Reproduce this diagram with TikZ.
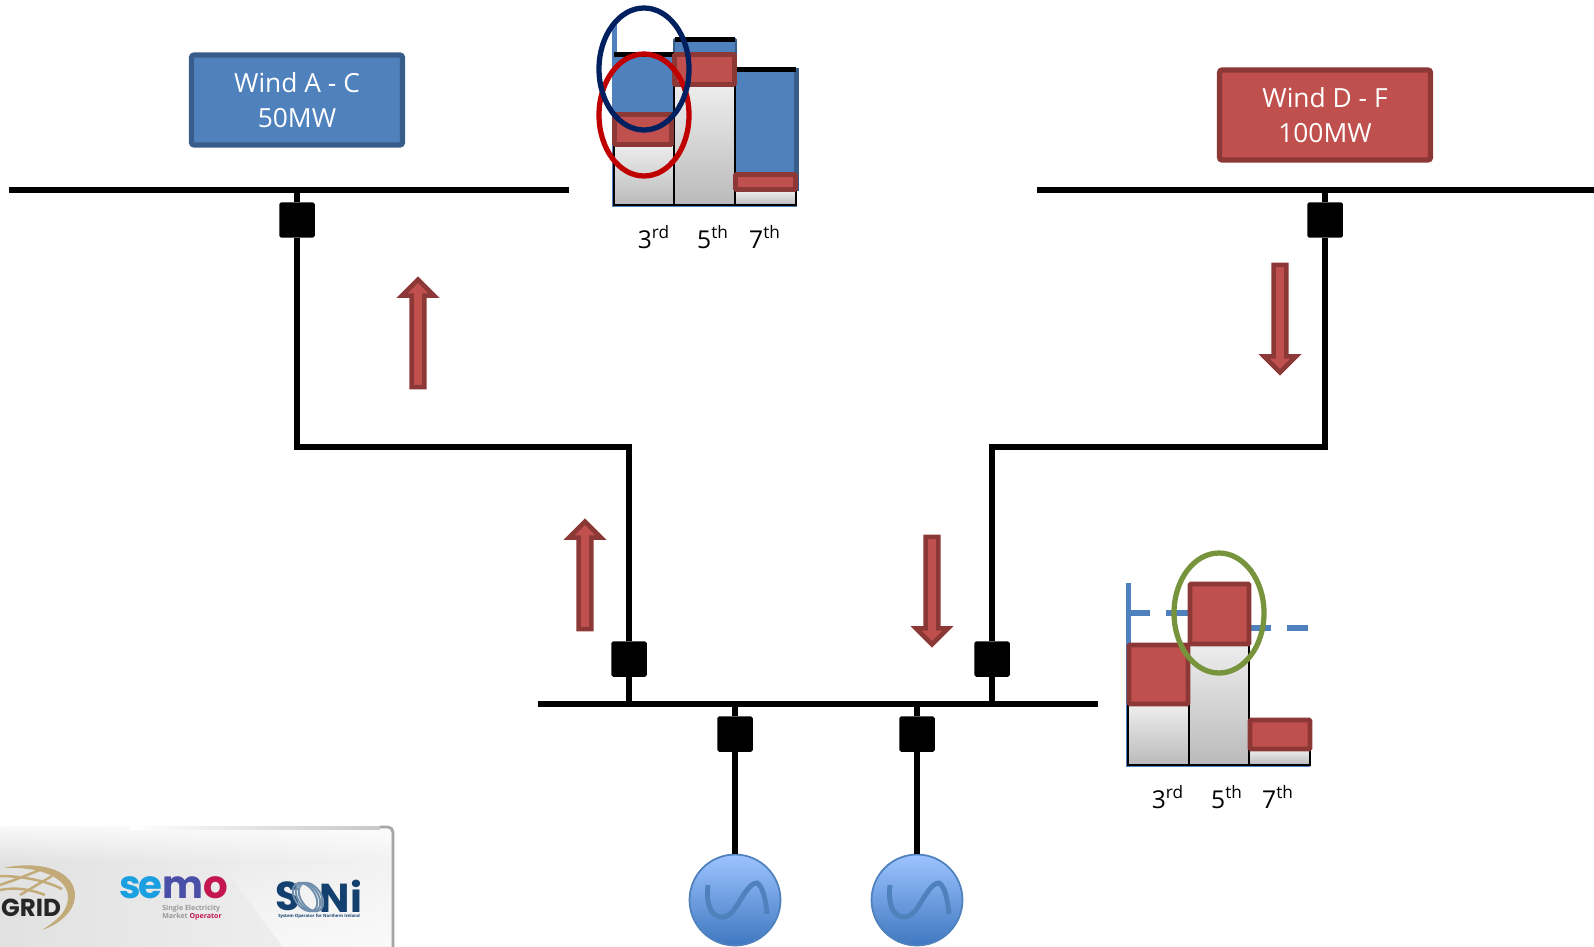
\documentclass[tikz,border=0pt]{standalone}
\usepackage{fontspec}
\setmainfont[Numbers=Lining]{Open Sans}
\newfontfamily\semofont[LetterSpace=-6]{Poppins}
\newfontfamily\logofont{Poppins}
\usetikzlibrary{shapes.arrows, fadings}
\definecolor{chartblue}{HTML}{4F81BD}
\definecolor{chartblueedge}{HTML}{385D8A}
\definecolor{chartred}{HTML}{C0504D}
\definecolor{chartrededge}{HTML}{8C3836}
\definecolor{ringnavy}{HTML}{002060}
\definecolor{ringred}{HTML}{C00000}
\definecolor{ringgreen}{HTML}{77933C}
\definecolor{genlight}{HTML}{9DC3FF}
\definecolor{gendark}{HTML}{3F78C0}
\definecolor{semoblue}{HTML}{1A9FE0}
\definecolor{semopurple}{HTML}{4A4FA8}
\definecolor{semored}{HTML}{C4164F}
\definecolor{soninavy}{HTML}{14406F}
\definecolor{sonisteel}{HTML}{6F8FAD}
\definecolor{gridgold}{HTML}{C2AB78}
\begin{document}
\begin{tikzpicture}[x=0.02cm, y=-0.02cm]
    % Define styles
    \tikzset{
        busbar/.style={
            fill=black,
            inner sep=0pt,
            minimum height=0.11cm
        },
        wire/.style={
            line width=3pt
        },
        breaker/.style={
            fill=black,
            rounded corners=1pt,
            inner sep=0pt,
            minimum size=0.71cm
        },
        windbox/.style={
            draw,
            line width=3pt,
            rounded corners=1.5pt,
            text=white,
            align=center,
            font=\fontsize{15}{20}\selectfont,
            minimum width=4.22cm,
            minimum height=1.8cm
        },
        windblue/.style={
            windbox,
            fill=chartblue,
            draw=chartblueedge
        },
        windred/.style={
            windbox,
            fill=chartred,
            draw=chartrededge
        },
        flow/.style={
            single arrow,
            draw=chartrededge,
            fill=chartred,
            line width=2.6pt,
            inner sep=0pt,
            outer sep=0pt,
            minimum width=0.64cm,
            minimum height=2.15cm,
            single arrow head extend=0.07cm,
            single arrow tip angle=90
        },
        generator/.style={
            circle,
            draw=chartblue,
            line width=1pt,
            top color=genlight,
            bottom color=gendark,
            minimum size=1.82cm,
            inner sep=0pt
        },
        sinewave/.style={
            line width=2.8pt,
            color=chartblue
        },
        redbar/.style={
            fill=chartred,
            draw=chartrededge,
            line width=2.6pt,
            rounded corners=0.5pt
        },
        greybar/.style={
            draw=black,
            line width=1.2pt,
            top color=black!7,
            bottom color=black!27
        },
        ring/.style={
            line width=3pt
        },
        order/.style={
            font=\fontsize{14}{16}\selectfont,
            inner sep=0pt,
            anchor=base
        }
    }

    \useasboundingbox (0,0) rectangle (1594,946);
    \clip (0,0) rectangle (1594,946);

    % Logo panel
    \shade[left color=black!12, right color=black!5, rounded corners=3pt]
        (-20,826) rectangle (393,980);
    \fill[white, opacity=0.8, path fading=south] (-20,826) rectangle (391,862);
    \fill[white, opacity=0.6, path fading=north] (215,855) -- (282,946) -- (391,946) -- (391,855) -- cycle;
    \shade[left color=white, middle color=black!35, right color=black!22] (130,826) rectangle (380,829);
    \draw[black!35, line width=1.6pt, rounded corners=3pt] (380,827) -- (393,827) -- (393,960);
    \fill[gridgold] (3,868) .. controls (40,860) and (76,870) .. (75,897)
        .. controls (74,912) and (58,925) .. (42,930)
        .. controls (56,921) and (68,912) .. (68,897)
        .. controls (68,878) and (40,866) .. cycle;
    \draw[gridgold, line width=1.4pt] (0,885) .. controls (15,880) and (30,874) .. (42,869);
    \draw[gridgold, line width=1.4pt] (20,895) .. controls (30,889) and (42,882) .. (52,876);
    \draw[gridgold, line width=1.4pt] (0,876) .. controls (20,876) and (45,880) .. (62,889);
    \draw[gridgold, line width=1.4pt] (0,890) .. controls (15,887) and (30,889) .. (45,895);
    \node[inner sep=0pt, font=\logofont\bfseries\fontsize{14}{14}\selectfont, text=black!85] (gridlabel) at (31,908) {GRID};
    \node[inner sep=0pt, font=\semofont\bfseries\fontsize{22}{22}\selectfont] (semologo) at (174,888)
        {\textcolor{semoblue}{se}\textcolor{semopurple}{m}\textcolor{semored}{o}};
    \node[inner sep=0pt, align=left, font=\bfseries\fontsize{4}{4.5}\selectfont, text=black!40] (semotext) at (192,913)
        {Single Electricity\\Market \textcolor{semored}{Operator}};
    \node[inner sep=0pt, font=\logofont\bfseries\fontsize{23}{23}\selectfont, text=soninavy] (soniS) at (288,896) {S};
    \node[inner sep=0pt, font=\logofont\bfseries\fontsize{23}{23}\selectfont, text=soninavy] (soniN) at (341,896) {Ni};
    \foreach \shiftx in {-3,0,3}
        \draw[sonisteel, line width=1.1pt, rotate around={35:(308+\shiftx,897)}] (308+\shiftx,897) ellipse (10 and 16);
    \node[inner sep=0pt, font=\bfseries\fontsize{2.45}{3}\selectfont, text=soninavy] (sonitext) at (319,916.5) {System Operator for Northern Ireland};

    % Busbars
    \node[busbar, minimum width=11.2cm] (busA) at (289,190) {};
    \node[busbar, minimum width=11.2cm] (busD) at (1317,190) {};
    \node[busbar, minimum width=11.2cm] (busC) at (818,704) {};

    % Wind farms
    \node[windblue] (windA) at (297,100) {Wind A - C\\50MW};
    \node[windred] (windD) at (1325,115) {Wind D - F\\100MW};

    % Breakers
    \node[breaker] (brkA) at (297,220) {};
    \node[breaker] (brkD) at (1325,220) {};
    \node[breaker] (brkB) at (629,659) {};
    \node[breaker] (brkE) at (992,659) {};
    \node[breaker] (brkG) at (735,734) {};
    \node[breaker] (brkH) at (917,734) {};

    % Generators
    \node[generator] (genG) at (735,900) {};
    \node[generator] (genH) at (917,900) {};
    \foreach \gx in {735,917}
        \draw[sinewave] (\gx-27,885) .. controls (\gx-31,915) and (\gx-14,925) .. (\gx-2,911)
            .. controls (\gx+6,901) and (\gx+13,883) .. (\gx+22,883)
            .. controls (\gx+28,886) and (\gx+31,902) .. (\gx+32,914);

    % Feeders
    \coordinate (kneeB) at (629,447);
    \coordinate (kneeE) at (992,447);
    \draw[wire] (windA.south |- busA) -- (brkA);
    \draw[wire] (brkA) |- (kneeB) -- (brkB);
    \draw[wire] (brkB) -- (brkB |- busC);
    \draw[wire] (windD.south |- busD) -- (brkD);
    \draw[wire] (brkD) |- (kneeE) -- (brkE);
    \draw[wire] (brkE) -- (brkE |- busC);
    \draw[wire] (brkG |- busC) -- (brkG);
    \draw[wire] (brkG) -- (genG);
    \draw[wire] (brkH |- busC) -- (brkH);
    \draw[wire] (brkH) -- (genH);

    % Flow arrows
    \node[flow, rotate=90] (flowA) at (418,336.5) {};
    \node[flow, rotate=90] (flowB) at (585,578.5) {};
    \node[flow, rotate=-90] (flowD) at (1280,315.5) {};
    \node[flow, rotate=-90] (flowE) at (932,587.5) {};

    % Upper spectrum
    \fill[chartblue] (612,22) rectangle (617,207);
    \fill[chartblue] (612,204) rectangle (797,207);
    \fill[chartblue] (614,54) rectangle (674,145);
    \draw[chartblueedge, fill=chartblue, line width=1pt, rounded corners=1pt] (674,38) rectangle (736,85);
    \fill[chartblue] (735,69) rectangle (796,191);
    \fill[chartblueedge] (794,68) rectangle (798.5,191);
    \foreach \xa/\xb/\ytop in {614/674/145, 674/735/85, 735/796/191}
        \draw[greybar] (\xa,\ytop) rectangle (\xb,205);
    \foreach \xa/\xb/\ytop in {614/674/54.5, 675/735/39.5, 735/796/69.5}
        \fill[black] (\xa,\ytop-2.5) rectangle (\xb,\ytop+2.5);
    \draw[redbar] (614.5,114.5) rectangle (671.5,144.5);
    \draw[redbar] (674.5,54.5) rectangle (734.5,84.5);
    \draw[redbar] (735.5,174.5) rectangle (795.5,189.5);
    \draw[ring, ringred] (644,115) ellipse (45 and 61);
    \draw[ring, ringnavy] (644,69) ellipse (45 and 61);
    \node[order] (thirdA) at (654,248) {3\textsuperscript{rd}};
    \node[order] (fifthA) at (713,248) {5\textsuperscript{th}};
    \node[order] (seventhA) at (765,248) {7\textsuperscript{th}};

    % Lower spectrum
    \fill[chartblue] (1126,583) rectangle (1131,767);
    \fill[chartblue] (1126,764) rectangle (1310,767);
    \draw[chartblue, line width=3.4pt, dash pattern=on 0.44cm off 0.32cm] (1128,613) -- (1188,613);
    \draw[chartblue, line width=3.4pt, dash pattern=on 0.44cm off 0.32cm] (1249,628) -- (1308,628);
    \foreach \xa/\xb/\ytop in {1128/1189/705, 1189/1249/644, 1249/1310/750}
        \draw[greybar] (\xa,\ytop) rectangle (\xb,765);
    \draw[redbar] (1129,645) rectangle (1188,704);
    \draw[redbar] (1190,584) rectangle (1249,644);
    \draw[redbar] (1250,720) rectangle (1310,749);
    \draw[ring, ringgreen] (1219,613) ellipse (45 and 60);
    \node[order] (thirdC) at (1168,808) {3\textsuperscript{rd}};
    \node[order] (fifthC) at (1227,808) {5\textsuperscript{th}};
    \node[order] (seventhC) at (1278,808) {7\textsuperscript{th}};
\end{tikzpicture}
\end{document}
